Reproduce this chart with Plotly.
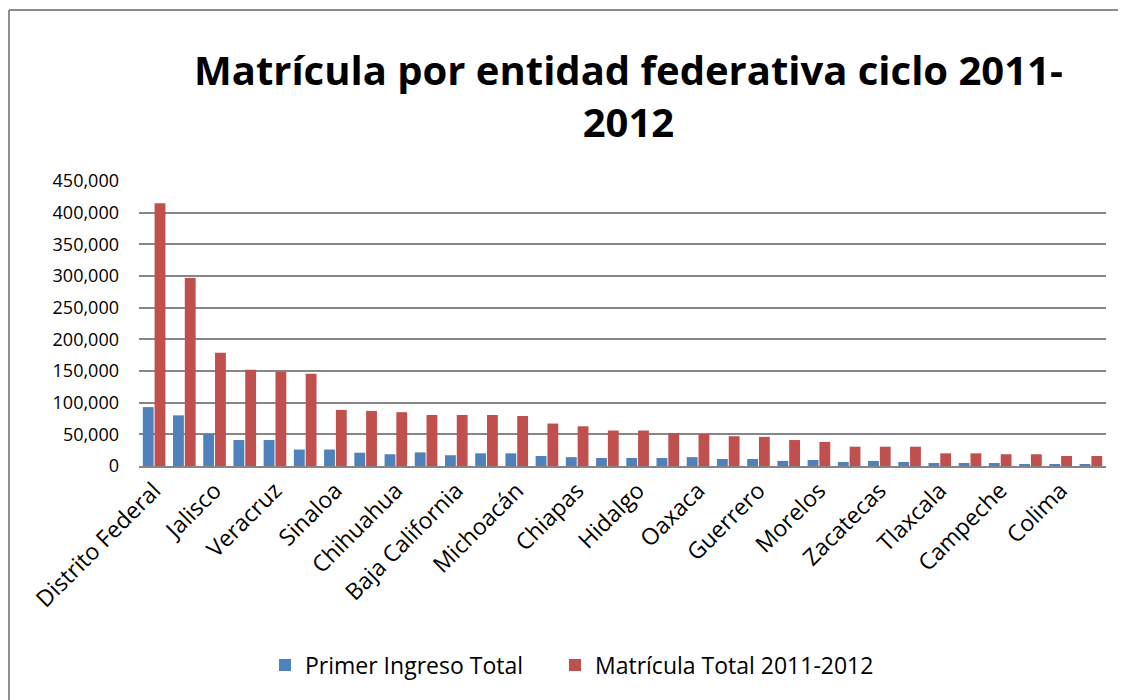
import plotly.graph_objects as go

estados = [
    "Distrito Federal", "México", "Jalisco", "Puebla", "Veracruz", "Nuevo León",
    "Sinaloa", "Guanajuato", "Chihuahua", "Sonora", "Baja California", "Tamaulipas",
    "Michoacán", "Coahuila", "Chiapas", "San Luis Potosí", "Hidalgo", "Tabasco",
    "Oaxaca", "Yucatán", "Guerrero", "Querétaro", "Morelos", "Durango",
    "Zacatecas", "Aguascalientes", "Tlaxcala", "Nayarit", "Campeche", "Quintana Roo",
    "Colima", "Baja California Sur",
]

primer_ingreso = [
    93000, 80000, 50500, 41000, 41000, 26000, 26000, 21000, 18500, 21500,
    17000, 20000, 20000, 15800, 14000, 12600, 12600, 12600, 14000, 11000,
    11000, 8000, 9500, 6300, 8000, 6300, 4700, 4700, 4700, 3200, 3200, 3200,
]

matricula_total = [
    415000, 297000, 179000, 152000, 149000, 145500, 88500, 87000, 85000, 80500,
    80500, 80500, 79000, 67000, 62700, 56000, 56000, 52000, 50500, 47000,
    46000, 41000, 38000, 30500, 30500, 30500, 20000, 20000, 18500, 18500,
    15800, 15800,
]

y_ticks = [0, 50000, 100000, 150000, 200000, 250000, 300000, 350000, 400000, 450000]
y_tick_text = ["0", "50,000", "100,000", "150,000", "200,000", "250,000",
               "300,000", "350,000", "400,000", "450,000"]

BLUE = "#4F81BD"
RED = "#C0504D"
FONT = "Open Sans"
BORDER = "#8C8C8C"

fig = go.Figure()
fig.add_trace(go.Bar(x=estados, y=primer_ingreso, name="Primer Ingreso Total",
                     marker=dict(color=BLUE, line=dict(width=0)), legend="legend"))
fig.add_trace(go.Bar(x=estados, y=matricula_total, name="Matrícula Total 2011-2012",
                     marker=dict(color=RED, line=dict(width=0)), legend="legend2"))

legend_style = dict(
    orientation="h", xanchor="left", y=-0.698, yanchor="middle",
    font=dict(family=FONT, size=23, color="black"), itemwidth=30,
)

fig.update_layout(
    width=1118, height=692,
    barmode="group", bargap=0.22, bargroupgap=0.08,
    paper_bgcolor="white", plot_bgcolor="white",
    margin=dict(l=131, r=20, t=173, b=234, autoexpand=False),
    font=dict(family=FONT, color="black"),
    legend=dict(x=(257 - 131) / 967, **legend_style),
    legend2=dict(x=(547 - 131) / 967, **legend_style),
    showlegend=True,
)

fig.add_annotation(
    text="<b>Matrícula por entidad federativa ciclo 2011-<br>2012</b>",
    xref="paper", yref="paper", x=(620 - 131) / 967, y=1.30,
    xanchor="center", yanchor="middle", showarrow=False,
    font=dict(family=FONT, size=40, color="black"),
)

fig.update_xaxes(
    type="category",
    tickvals=estados[::2], ticktext=estados[::2],
    tickangle=-45, tickfont=dict(family=FONT, size=23, color="black"),
    showgrid=False, showline=True, linecolor="#868686", linewidth=2,
    ticks="", fixedrange=True,
)
fig.update_yaxes(
    range=[0, 450000], tickvals=y_ticks, ticktext=y_tick_text,
    tickfont=dict(family=FONT, size=18, color="black"),
    showgrid=True, gridcolor="#868686", gridwidth=2,
    zeroline=False, showline=False, ticks="", ticklen=0,
    ticklabelstandoff=19,
)

# Chart frame: only its top and left edges fall inside the picture
fig.add_shape(type="line", xref="paper", yref="paper",
              x0=-0.1345, x1=1.2, y0=1.6, y1=1.6,
              line=dict(color=BORDER, width=2), layer="below")
fig.add_shape(type="line", xref="paper", yref="paper",
              x0=-0.1345, x1=-0.1345, y0=1.6, y1=-1.2,
              line=dict(color=BORDER, width=2), layer="below")

fig.write_html(
    "out.html",
    post_script="document.documentElement.style.overflow='hidden';document.body.style.overflow='hidden';",
)
